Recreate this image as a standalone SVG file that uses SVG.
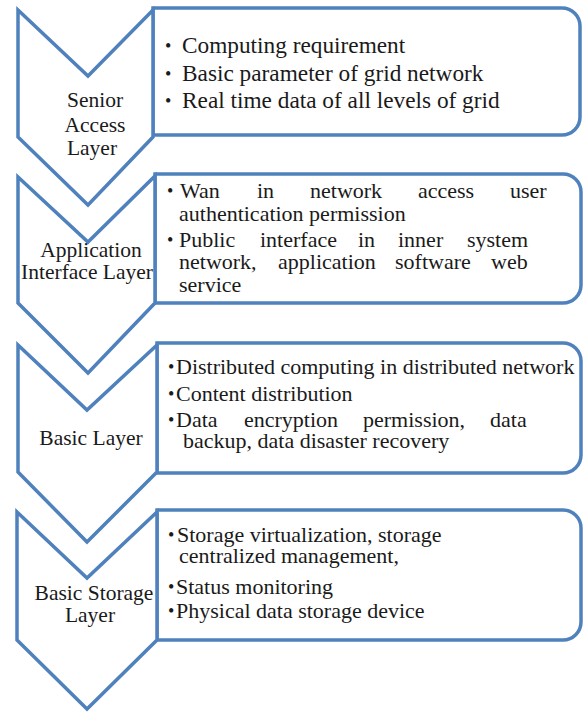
<svg xmlns="http://www.w3.org/2000/svg" width="587" height="713" viewBox="0 0 587 713">
  <style>
    .chev { fill: #ffffff; stroke: #4f81bd; stroke-width: 3.5; stroke-linejoin: miter; }
    .box { fill: #ffffff; stroke: #4f81bd; stroke-width: 3.5; }
    text { font-family: 'Liberation Serif', 'Times New Roman', 'DejaVu Serif', serif; fill: #1a1a1a; }
    .lbl { font-size: 21.5px; text-anchor: middle; }
    .txt { font-size: 22px; }
    .txt1 { font-size: 23.3px; }
    .dot { font-size: 18px; }
  </style>
  <rect width="587" height="713" fill="#ffffff"/>

  <!-- Layer 1: Senior Access Layer -->
  <g id="box-senior">
    <path class="box" d="M153,8 H562 A18,18 0 0 1 580,26 V117 A18,18 0 0 1 562,135 H153 Z"/>
    <text class="txt1" y="53"><tspan class="dot" x="165" dy="-1">•</tspan><tspan x="182" dy="1">Computing requirement</tspan></text>
    <text class="txt1" y="81"><tspan class="dot" x="165" dy="-1">•</tspan><tspan x="182" dy="1">Basic parameter of grid network</tspan></text>
    <text class="txt1" y="108"><tspan class="dot" x="165" dy="-1">•</tspan><tspan x="182" dy="1">Real time data of all levels of grid</tspan></text>
  </g>
  <g id="layer-senior">
    <polygon class="chev" points="18,10 88,76 153,10 153,137 88,205 18,137"/>
    <text class="lbl" y="107"><tspan x="95">Senior</tspan><tspan x="95" y="132">Access</tspan><tspan x="92" y="155">Layer</tspan></text>
  </g>

  <!-- Layer 2: Application Interface Layer -->
  <g id="box-application">
    <path class="box" d="M155,174 H563 A18,18 0 0 1 581,192 V285 A18,18 0 0 1 563,303 H155 Z"/>
    <text class="txt" y="198"><tspan class="dot" x="167" dy="-1">•</tspan><tspan x="180" dy="1">Wan</tspan><tspan x="257">in</tspan><tspan x="310">network</tspan><tspan x="418">access</tspan><tspan x="510">user</tspan><tspan x="179" y="221">authentication permission</tspan></text>
    <text class="txt" y="247"><tspan class="dot" x="167" dy="-1">•</tspan><tspan x="179" dy="1">Public</tspan><tspan x="260">interface</tspan><tspan x="358">in</tspan><tspan x="398">inner</tspan><tspan x="467">system</tspan><tspan x="179" y="269">network,</tspan><tspan x="278">application</tspan><tspan x="395">software</tspan><tspan x="491">web</tspan><tspan x="179" y="292">service</tspan></text>
  </g>
  <g id="layer-application">
    <polygon class="chev" points="18,177 88,242 155,176 155,303 88,373 18,303"/>
    <text class="lbl" y="257"><tspan x="91">Application</tspan><tspan x="87" y="279">Interface Layer</tspan></text>
  </g>

  <!-- Layer 3: Basic Layer -->
  <g id="box-basic">
    <path class="box" d="M157,343 H563 A18,18 0 0 1 581,361 V455 A18,18 0 0 1 563,473 H157 Z"/>
    <text class="txt" y="374"><tspan class="dot" x="168" dy="-1">•</tspan><tspan x="176" dy="1">Distributed computing in distributed network</tspan></text>
    <text class="txt" y="401"><tspan class="dot" x="168" dy="-1">•</tspan><tspan x="176" dy="1">Content distribution</tspan></text>
    <text class="txt" y="427"><tspan class="dot" x="168" dy="-1">•</tspan><tspan x="176" dy="1">Data</tspan><tspan x="244">encryption</tspan><tspan x="363">permission,</tspan><tspan x="490">data</tspan><tspan x="183" y="448">backup, data disaster recovery</tspan></text>
  </g>
  <g id="layer-basic">
    <polygon class="chev" points="18,345 87,410 157,345 157,472 87,542 18,472"/>
    <text class="lbl" x="91" y="445">Basic Layer</text>
  </g>

  <!-- Layer 4: Basic Storage Layer -->
  <g id="box-storage">
    <path class="box" d="M157,510 H563 A18,18 0 0 1 581,528 V622 A18,18 0 0 1 563,640 H157 Z"/>
    <text class="txt" y="542"><tspan class="dot" x="168" dy="-1">•</tspan><tspan x="177" dy="1">Storage virtualization, storage</tspan><tspan x="179" y="563">centralized management,</tspan></text>
    <text class="txt" y="594"><tspan class="dot" x="168" dy="-1">•</tspan><tspan x="176" dy="1">Status monitoring</tspan></text>
    <text class="txt" y="618"><tspan class="dot" x="168" dy="-1">•</tspan><tspan x="176" dy="1">Physical data storage device</tspan></text>
  </g>
  <g id="layer-storage">
    <polygon class="chev" points="17,512 87,578 157,512 157,640 87,709 17,640"/>
    <text class="lbl" y="600"><tspan x="94">Basic Storage</tspan><tspan x="90" y="622">Layer</tspan></text>
  </g>
</svg>
